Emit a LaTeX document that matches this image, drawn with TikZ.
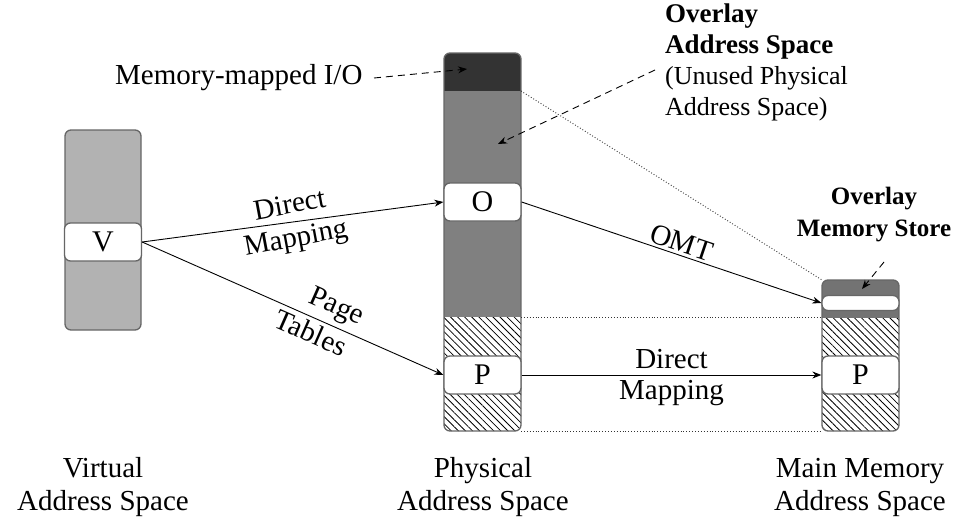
\documentclass[tikz,border=0pt]{standalone}
\usepackage{fontspec}
\setmainfont{Liberation Serif}
\usetikzlibrary{arrows.meta,patterns.meta}
\begin{document}
\begin{tikzpicture}[x=1pt,y=-1pt,
  every node/.style={font=\fontsize{29}{31}\selectfont},
  col/.style={draw=black!60,line width=1.3pt,rounded corners=6pt},
  cell/.style={draw=black!60,line width=1.3pt,rounded corners=6pt,fill=white,
    minimum width=77pt,minimum height=38pt,inner sep=0pt,font=\fontsize{30}{32}\selectfont},
  hatch/.style={pattern={Lines[angle=-45,distance=5pt,line width=0.8pt]}},
  link/.style={-{Stealth[length=9pt,width=7pt]},line width=0.9pt},
  callout/.style={-{Stealth[length=9pt,width=7pt]},dash pattern=on 7pt off 5pt,line width=0.9pt},
  guide/.style={dotted,line width=0.9pt,black!80},
  caption/.style={align=center,font=\fontsize{29}{33}\selectfont}]
\useasboundingbox (0,0) rectangle (977,517);

% virtual address space
\fill[black!30,rounded corners=6pt] (65,130) rectangle (141,330);
\draw[col] (65,130) rectangle (141,330);
\node[cell] (V) at (103,242) {V};

% physical address space: I/O, overlay (unused) and used regions
\begin{scope}
  \clip[rounded corners=6pt] (444,53) rectangle (521,431);
  \fill[black!80] (444,53) rectangle (521,91);
  \fill[black!50] (444,91) rectangle (521,317);
  \fill[hatch] (444,317) rectangle (521,431);
\end{scope}
\draw[col] (444,53) rectangle (521,431);
\node[cell] (O) at (482.5,202) {O};
\node[cell] (P) at (482.5,375) {P};
\coordinate (pmid) at (521,91);
\coordinate (phat) at (521,317);
\coordinate (pbot) at (521,431);
\coordinate (mmio) at (467,69);
\coordinate (ovl) at (498,144);

% main memory address space: overlay store on top of regular memory
\begin{scope}
  \clip[rounded corners=6pt] (822,280) rectangle (899,431);
  \fill[black!55] (822,280) rectangle (899,318);
  \fill[hatch] (822,318) rectangle (899,431);
\end{scope}
\draw[col] (822,280) rectangle (899,431);
\node[cell,minimum height=15pt] (S) at (860.5,303) {};
\node[cell] (M) at (860.5,375) {P};
\coordinate (mtop) at (822,280);
\coordinate (mhat) at (822,317);
\coordinate (mbot) at (822,431);
\coordinate (store) at (862,289);

% guide lines between the spaces
\draw[guide] (pmid) -- (mtop);
\draw[guide] (phat) -- (mhat);
\draw[guide] (pbot) -- (mbot);

% mappings
\draw[link] (V.east) -- node[sloped,above,inner sep=8pt,rotate=3] {Direct} node[sloped,below,inner sep=5pt,rotate=3] {Mapping} (O.west);
\draw[link] (V.east) -- node[sloped,above,pos=0.62,inner sep=5pt] {Page} node[sloped,below,pos=0.58,inner sep=4pt] {Tables} (P.west);
\draw[link] (O.east) -- node[sloped,above,pos=0.52,inner sep=2.5pt] {OMT} (S.west);
\draw[link] (P.east) -- node[above,inner sep=6pt] {Direct} node[below,inner sep=5pt] {Mapping} (M.west);

% callouts
\node[anchor=base west,inner sep=0pt] (mmiotext) at (115,84) {Memory-mapped I/O};
\coordinate (mmiostart) at (374,78);
\draw[callout] (mmiostart) -- (mmio);
\node[anchor=north west,align=left,inner sep=0pt,font=\fontsize{26}{31}\selectfont] (ovltext) at (665,4)
  {\textbf{\fontsize{27}{31}\selectfont Overlay}\\\textbf{\fontsize{27}{31}\selectfont Address Space}\\(Unused Physical\\Address Space)};
\coordinate (ovlstart) at (655,70);
\draw[callout] (ovlstart) -- (ovl);
\node[align=center,inner sep=0pt,font=\fontsize{25}{32}\selectfont\bfseries] (storetext) at (874,215)
  {Overlay\\Memory Store};
\coordinate (storestart) at (884,262);
\draw[callout] (storestart) -- (store);

% captions
\node[caption] (cv) at (103,487) {Virtual\\Address Space};
\node[caption] (cp) at (483,487) {Physical\\Address Space};
\node[caption] (cm) at (860,487) {Main Memory\\Address Space};
\end{tikzpicture}
\end{document}
